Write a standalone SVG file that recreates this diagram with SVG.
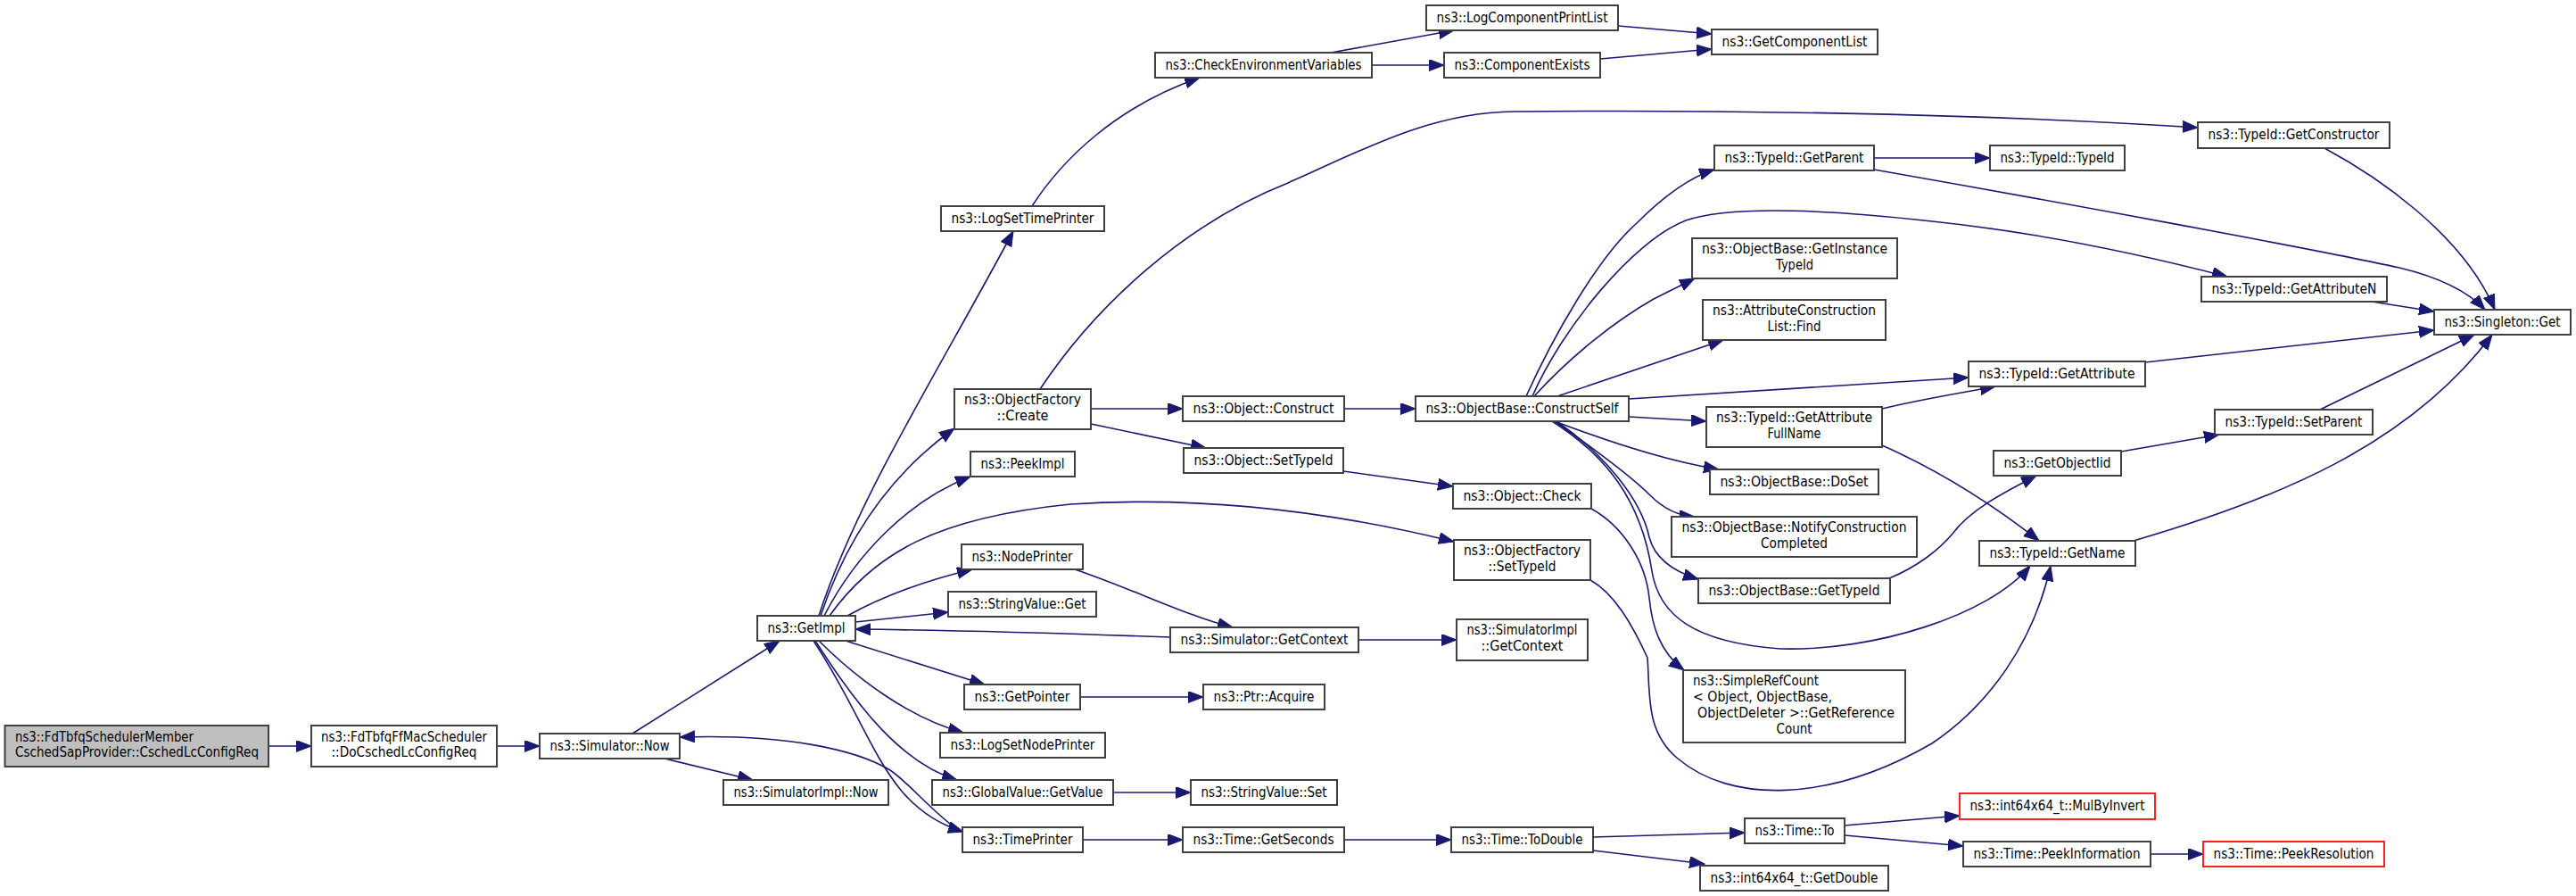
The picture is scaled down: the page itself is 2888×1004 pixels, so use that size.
<svg xmlns="http://www.w3.org/2000/svg" width="2888" height="1004" viewBox="0 0 2888 1004">
<style>
.n rect{fill:#fff;stroke:#404040;stroke-width:2}
.n.root rect{fill:#bfbfbf}
.n.red rect{stroke:#ff2020}
text{font-family:'DejaVu Sans','Liberation Sans',sans-serif;font-size:16.5px;fill:#000;text-anchor:middle}
text.l{text-anchor:start}
.e path{fill:none;stroke:#191970;stroke-width:1.6;marker-end:url(#a)}
</style>
<defs>
<marker id="a" markerUnits="userSpaceOnUse" markerWidth="18" markerHeight="14" refX="17" refY="6.5" orient="auto">
<path d="M0,0 L17,6.5 L0,13 z" fill="#191970" stroke="#191970" stroke-width="1"/>
</marker>
</defs>
<rect width="2888" height="1004" fill="#fff"/>
<g id="edges" class="e">
<path d="M301,836 L349,836"/>
<path d="M557,836 L605,836"/>
<path d="M709,822 L874,718"/>
<path d="M745,850 L844,874"/>
<path d="M1075,931 C1040,905 1020,878 998,863 C960,840 880,822 762,826"/>
<path d="M918,690 C960,560 1050,420 1136,259"/>
<path d="M920,690 C950,600 1000,530 1070,480"/>
<path d="M924,690 C960,620 1020,560 1088,534"/>
<path d="M930,690 C980,620 1050,580 1200,565 C1350,555 1500,575 1630,607"/>
<path d="M950,690 C990,668 1040,650 1090,638"/>
<path d="M959,697 L1063,686"/>
<path d="M1312,714 C1200,710 1050,706 959,705"/>
<path d="M948,718 L1104,767"/>
<path d="M918,718 C960,760 1020,805 1080,821"/>
<path d="M914,718 C960,790 1010,855 1073,874"/>
<path d="M912,718 C980,820 990,905 1080,932"/>
<path d="M1205,638 C1270,660 1330,690 1382,703"/>
<path d="M1523,717 L1633,717"/>
<path d="M1211,781 L1349,781"/>
<path d="M1248,888 L1335,888"/>
<path d="M1214,941 L1326,941"/>
<path d="M1507,941 L1627,941"/>
<path d="M1786,938 L1956,933"/>
<path d="M1786,953 L1911,968"/>
<path d="M2068,925 L2197,914"/>
<path d="M2068,936 L2201,948"/>
<path d="M2411,957 L2470,957"/>
<path d="M1157,231 C1190,180 1250,120 1345,87"/>
<path d="M1492,59 L1630,34"/>
<path d="M1538,73 L1619,73"/>
<path d="M1814,29 L1919,38"/>
<path d="M1794,66 L1919,55"/>
<path d="M1166,436 C1230,340 1330,250 1444,205 C1520,172 1600,126 1697,125 C1900,123 2200,126 2464,143"/>
<path d="M1223,458 L1326,458"/>
<path d="M1223,475 L1352,502"/>
<path d="M1507,458 L1587,458"/>
<path d="M1506,528 L1629,545"/>
<path d="M1784,570 C1820,590 1845,630 1849,670 C1852,700 1860,730 1888,751"/>
<path d="M1783,650 C1810,665 1830,700 1847,737 C1850,780 1845,820 1881,850 C1940,900 2050,900 2166,833 C2230,790 2280,720 2299,634"/>
<path d="M1740,472 C1800,510 1840,560 1852,640 C1860,690 1900,720 1996,727 C2100,730 2230,690 2276,634"/>
<path d="M1711,444 C1740,380 1790,290 1835,250 C1860,225 1890,200 1922,190"/>
<path d="M1718,444 C1750,370 1830,270 1890,247 C1940,230 2050,235 2166,248 C2300,262 2420,290 2497,310"/>
<path d="M1720,444 C1760,400 1810,360 1854,335 L1900,312"/>
<path d="M1746,444 L1932,381"/>
<path d="M1826,447 L2207,423"/>
<path d="M1826,467 L1913,472"/>
<path d="M1743,472 C1790,490 1860,515 1927,526"/>
<path d="M1743,472 C1790,505 1830,535 1850,555 C1865,570 1880,578 1900,579"/>
<path d="M1745,472 C1800,510 1840,560 1849,602 C1855,625 1875,640 1904,649"/>
<path d="M2110,458 C2150,448 2200,440 2237,433"/>
<path d="M2110,499 C2180,530 2240,570 2286,606"/>
<path d="M2118,648 C2150,635 2175,615 2189,598 C2210,570 2250,550 2283,533"/>
<path d="M2378,506 L2488,487"/>
<path d="M2601,459 L2774,375"/>
<path d="M2392,606 C2550,560 2700,500 2794,375"/>
<path d="M2405,406 L2729,370"/>
<path d="M2659,338 L2729,349"/>
<path d="M2101,190 C2300,225 2600,280 2690,300 C2740,312 2770,330 2786,347"/>
<path d="M2606,166 C2660,195 2760,260 2797,347"/>
<path d="M2101,177 L2231,177"/>
</g>
<g id="n_root" class="n root"><rect x="5.5" y="813" width="295.5" height="46"/><text class="l" x="17" y="830.5" textLength="200" lengthAdjust="spacingAndGlyphs">ns3::FdTbfqSchedulerMember</text><text class="l" x="17" y="848" textLength="273" lengthAdjust="spacingAndGlyphs">CschedSapProvider::CschedLcConfigReq</text></g>
<g id="n_docsched" class="n"><rect x="349" y="813" width="208" height="46"/><text x="453" y="830.5" textLength="186" lengthAdjust="spacingAndGlyphs">ns3::FdTbfqFfMacScheduler</text><text x="453" y="848" textLength="163" lengthAdjust="spacingAndGlyphs">::DoCschedLcConfigReq</text></g>
<g id="n_simnow" class="n"><rect x="605" y="822" width="157" height="28"/><text x="683.5" y="840.5" textLength="134" lengthAdjust="spacingAndGlyphs">ns3::Simulator::Now</text></g>
<g id="n_getimpl" class="n"><rect x="849" y="690" width="110" height="28"/><text x="904" y="708.5" textLength="87" lengthAdjust="spacingAndGlyphs">ns3::GetImpl</text></g>
<g id="n_simimplnow" class="n"><rect x="811" y="874" width="185" height="28"/><text x="903.5" y="892.5" textLength="162" lengthAdjust="spacingAndGlyphs">ns3::SimulatorImpl::Now</text></g>
<g id="n_logsettimeprinter" class="n"><rect x="1055" y="231" width="183" height="28"/><text x="1146.5" y="249.5" textLength="160" lengthAdjust="spacingAndGlyphs">ns3::LogSetTimePrinter</text></g>
<g id="n_create" class="n"><rect x="1070" y="436" width="153" height="45"/><text x="1146.5" y="453" textLength="131" lengthAdjust="spacingAndGlyphs">ns3::ObjectFactory</text><text x="1146.5" y="471" textLength="58" lengthAdjust="spacingAndGlyphs">::Create</text></g>
<g id="n_peekimpl" class="n"><rect x="1088" y="506" width="117" height="28"/><text x="1146.5" y="524.5" textLength="94" lengthAdjust="spacingAndGlyphs">ns3::PeekImpl</text></g>
<g id="n_nodeprinter" class="n"><rect x="1078" y="610" width="136" height="28"/><text x="1146" y="628.5" textLength="113" lengthAdjust="spacingAndGlyphs">ns3::NodePrinter</text></g>
<g id="n_stringvalueget" class="n"><rect x="1063" y="663" width="166" height="28"/><text x="1146" y="681.5" textLength="143" lengthAdjust="spacingAndGlyphs">ns3::StringValue::Get</text></g>
<g id="n_getpointer" class="n"><rect x="1081" y="767" width="130" height="28"/><text x="1146" y="785.5" textLength="107" lengthAdjust="spacingAndGlyphs">ns3::GetPointer</text></g>
<g id="n_logsetnodeprinter" class="n"><rect x="1054" y="821" width="185" height="28"/><text x="1146.5" y="839.5" textLength="162" lengthAdjust="spacingAndGlyphs">ns3::LogSetNodePrinter</text></g>
<g id="n_globalvalue" class="n"><rect x="1045" y="874" width="203" height="28"/><text x="1146.5" y="892.5" textLength="180" lengthAdjust="spacingAndGlyphs">ns3::GlobalValue::GetValue</text></g>
<g id="n_timeprinter" class="n"><rect x="1079" y="927" width="135" height="28"/><text x="1146.5" y="945.5" textLength="112" lengthAdjust="spacingAndGlyphs">ns3::TimePrinter</text></g>
<g id="n_checkenv" class="n"><rect x="1295" y="59" width="243" height="28"/><text x="1416.5" y="77.5" textLength="220" lengthAdjust="spacingAndGlyphs">ns3::CheckEnvironmentVariables</text></g>
<g id="n_objconstruct" class="n"><rect x="1326" y="444" width="181" height="28"/><text x="1416.5" y="462.5" textLength="158" lengthAdjust="spacingAndGlyphs">ns3::Object::Construct</text></g>
<g id="n_objsettypeid" class="n"><rect x="1327" y="502" width="179" height="28"/><text x="1416.5" y="520.5" textLength="156" lengthAdjust="spacingAndGlyphs">ns3::Object::SetTypeId</text></g>
<g id="n_simgetcontext" class="n"><rect x="1312" y="703" width="211" height="28"/><text x="1417.5" y="721.5" textLength="188" lengthAdjust="spacingAndGlyphs">ns3::Simulator::GetContext</text></g>
<g id="n_ptracquire" class="n"><rect x="1349" y="767" width="136" height="28"/><text x="1417" y="785.5" textLength="113" lengthAdjust="spacingAndGlyphs">ns3::Ptr::Acquire</text></g>
<g id="n_stringvalueset" class="n"><rect x="1335" y="874" width="164" height="28"/><text x="1417" y="892.5" textLength="141" lengthAdjust="spacingAndGlyphs">ns3::StringValue::Set</text></g>
<g id="n_getseconds" class="n"><rect x="1326" y="927" width="181" height="28"/><text x="1416.5" y="945.5" textLength="158" lengthAdjust="spacingAndGlyphs">ns3::Time::GetSeconds</text></g>
<g id="n_logcompprintlist" class="n"><rect x="1599" y="6" width="215" height="28"/><text x="1706.5" y="24.5" textLength="192" lengthAdjust="spacingAndGlyphs">ns3::LogComponentPrintList</text></g>
<g id="n_compexists" class="n"><rect x="1619" y="59" width="175" height="28"/><text x="1706.5" y="77.5" textLength="152" lengthAdjust="spacingAndGlyphs">ns3::ComponentExists</text></g>
<g id="n_constructself" class="n"><rect x="1587" y="444" width="239" height="28"/><text x="1706.5" y="462.5" textLength="216" lengthAdjust="spacingAndGlyphs">ns3::ObjectBase::ConstructSelf</text></g>
<g id="n_objcheck" class="n"><rect x="1629" y="542" width="155" height="28"/><text x="1706.5" y="560.5" textLength="132" lengthAdjust="spacingAndGlyphs">ns3::Object::Check</text></g>
<g id="n_ofsettypeid" class="n"><rect x="1630" y="605" width="153" height="45"/><text x="1706.5" y="622" textLength="131" lengthAdjust="spacingAndGlyphs">ns3::ObjectFactory</text><text x="1706.5" y="640" textLength="76" lengthAdjust="spacingAndGlyphs">::SetTypeId</text></g>
<g id="n_simimplgetcontext" class="n"><rect x="1633" y="694" width="147" height="46"/><text x="1706.5" y="711" textLength="124" lengthAdjust="spacingAndGlyphs">ns3::SimulatorImpl</text><text x="1706.5" y="729" textLength="92" lengthAdjust="spacingAndGlyphs">::GetContext</text></g>
<g id="n_todouble" class="n"><rect x="1627" y="927" width="159" height="28"/><text x="1706.5" y="945.5" textLength="136" lengthAdjust="spacingAndGlyphs">ns3::Time::ToDouble</text></g>
<g id="n_getcomplist" class="n"><rect x="1919" y="33" width="186" height="28"/><text x="2012" y="51.5" textLength="163" lengthAdjust="spacingAndGlyphs">ns3::GetComponentList</text></g>
<g id="n_getparent" class="n"><rect x="1922" y="163" width="179" height="28"/><text x="2011.5" y="181.5" textLength="156" lengthAdjust="spacingAndGlyphs">ns3::TypeId::GetParent</text></g>
<g id="n_getinstancetypeid" class="n"><rect x="1897" y="267" width="230" height="45"/><text x="2012" y="284" textLength="208" lengthAdjust="spacingAndGlyphs">ns3::ObjectBase::GetInstance</text><text x="2012" y="302" textLength="42" lengthAdjust="spacingAndGlyphs">TypeId</text></g>
<g id="n_attrfind" class="n"><rect x="1909" y="336" width="205" height="45"/><text x="2011.5" y="353" textLength="183" lengthAdjust="spacingAndGlyphs">ns3::AttributeConstruction</text><text x="2011.5" y="371" textLength="60" lengthAdjust="spacingAndGlyphs">List::Find</text></g>
<g id="n_getattrfullname" class="n"><rect x="1913" y="456" width="197" height="45"/><text x="2011.5" y="473" textLength="175" lengthAdjust="spacingAndGlyphs">ns3::TypeId::GetAttribute</text><text x="2011.5" y="491" textLength="60" lengthAdjust="spacingAndGlyphs">FullName</text></g>
<g id="n_doset" class="n"><rect x="1917" y="526" width="189" height="28"/><text x="2011.5" y="544.5" textLength="166" lengthAdjust="spacingAndGlyphs">ns3::ObjectBase::DoSet</text></g>
<g id="n_notify" class="n"><rect x="1874" y="579" width="275" height="45"/><text x="2011.5" y="596" textLength="252" lengthAdjust="spacingAndGlyphs">ns3::ObjectBase::NotifyConstruction</text><text x="2011.5" y="614" textLength="75" lengthAdjust="spacingAndGlyphs">Completed</text></g>
<g id="n_gettypeid" class="n"><rect x="1904" y="648" width="215" height="28"/><text x="2011.5" y="666.5" textLength="192" lengthAdjust="spacingAndGlyphs">ns3::ObjectBase::GetTypeId</text></g>
<g id="n_simplerefcount" class="n"><rect x="1887" y="751" width="249" height="81"/><text class="l" x="1898" y="768" textLength="141" lengthAdjust="spacingAndGlyphs">ns3::SimpleRefCount</text><text class="l" x="1898" y="786" textLength="156" lengthAdjust="spacingAndGlyphs">&lt; Object, ObjectBase,</text><text class="l" x="1903" y="804" textLength="221" lengthAdjust="spacingAndGlyphs">ObjectDeleter &gt;::GetReference</text><text x="2011.5" y="822" textLength="40" lengthAdjust="spacingAndGlyphs">Count</text></g>
<g id="n_timeto" class="n"><rect x="1956" y="917" width="112" height="28"/><text x="2012" y="935.5" textLength="89" lengthAdjust="spacingAndGlyphs">ns3::Time::To</text></g>
<g id="n_getdouble" class="n"><rect x="1906" y="970" width="211" height="28"/><text x="2011.5" y="988.5" textLength="188" lengthAdjust="spacingAndGlyphs">ns3::int64x64_t::GetDouble</text></g>
<g id="n_typeidtypeid" class="n"><rect x="2231" y="163" width="151" height="28"/><text x="2306.5" y="181.5" textLength="128" lengthAdjust="spacingAndGlyphs">ns3::TypeId::TypeId</text></g>
<g id="n_getattribute" class="n"><rect x="2207" y="405" width="198" height="28"/><text x="2306" y="423.5" textLength="175" lengthAdjust="spacingAndGlyphs">ns3::TypeId::GetAttribute</text></g>
<g id="n_getobjectiid" class="n"><rect x="2235" y="505" width="143" height="28"/><text x="2306.5" y="523.5" textLength="120" lengthAdjust="spacingAndGlyphs">ns3::GetObjectIid</text></g>
<g id="n_getname" class="n"><rect x="2219" y="606" width="175" height="28"/><text x="2306.5" y="624.5" textLength="152" lengthAdjust="spacingAndGlyphs">ns3::TypeId::GetName</text></g>
<g id="n_mulbyinvert" class="n red"><rect x="2197" y="889" width="219" height="29"/><text x="2306.5" y="908" textLength="196" lengthAdjust="spacingAndGlyphs">ns3::int64x64_t::MulByInvert</text></g>
<g id="n_peekinfo" class="n"><rect x="2201" y="943" width="210" height="28"/><text x="2306" y="961.5" textLength="187" lengthAdjust="spacingAndGlyphs">ns3::Time::PeekInformation</text></g>
<g id="n_getconstructor" class="n"><rect x="2464" y="137" width="215" height="29"/><text x="2571.5" y="156" textLength="192" lengthAdjust="spacingAndGlyphs">ns3::TypeId::GetConstructor</text></g>
<g id="n_getattributen" class="n"><rect x="2468" y="310" width="208" height="28"/><text x="2572" y="328.5" textLength="185" lengthAdjust="spacingAndGlyphs">ns3::TypeId::GetAttributeN</text></g>
<g id="n_setparent" class="n"><rect x="2483" y="459" width="177" height="28"/><text x="2571.5" y="477.5" textLength="154" lengthAdjust="spacingAndGlyphs">ns3::TypeId::SetParent</text></g>
<g id="n_peekresolution" class="n red"><rect x="2470" y="943" width="203" height="28"/><text x="2571.5" y="961.5" textLength="180" lengthAdjust="spacingAndGlyphs">ns3::Time::PeekResolution</text></g>
<g id="n_singletonget" class="n"><rect x="2729" y="347" width="153" height="28"/><text x="2805.5" y="365.5" textLength="130" lengthAdjust="spacingAndGlyphs">ns3::Singleton::Get</text></g>
</svg>
